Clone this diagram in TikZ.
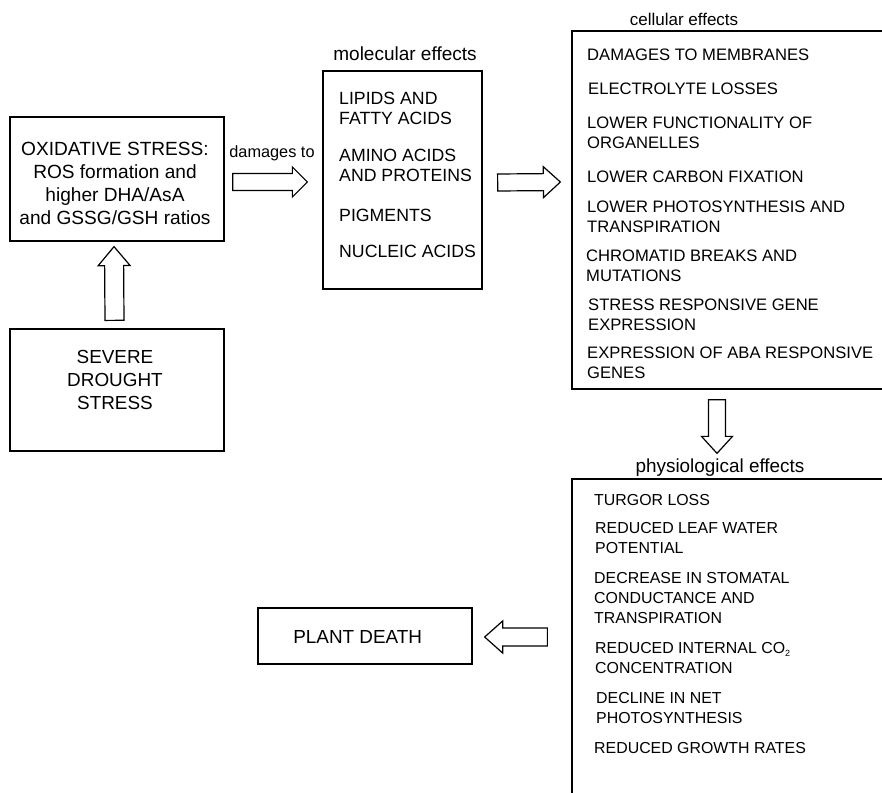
\documentclass[tikz,border=0pt]{standalone}
\usepackage{fontspec}
\setmainfont{Liberation Sans}
\usetikzlibrary{calc}
% hollow block arrow from #1 (tail) to #2 (tip);
% #3 = half shaft width, #4 = half head width, #5 = head length
\newcommand\blockarrow[5]{%
  \draw[arrowline]
    ($(#1)!#3!90:(#2)$) --
    ($(#2)!#5!(#1)!#3!90:(#2)$) --
    ($(#2)!#5!(#1)!#4!90:(#2)$) --
    (#2) --
    ($(#2)!#5!(#1)!#4!-90:(#2)$) --
    ($(#2)!#5!(#1)!#3!-90:(#2)$) --
    ($(#1)!#3!-90:(#2)$) -- cycle;}
% lowered small index
\newcommand\lowidx[1]{\raisebox{-3pt}{\fontsize{9}{9}\selectfont #1}}
\begin{document}
\begin{tikzpicture}[x=1pt,y=-1pt,
  frame/.style={draw=black,line width=1.3pt,inner sep=0pt,rectangle},
  % multi-line nodes: the base anchor sits on the last line
  item/.style={anchor=base west,align=left,inner sep=0pt},
  ctext/.style={anchor=base,align=center,inner sep=0pt},
  molfont/.style={font=\fontsize{17.7}{20}\selectfont},
  cellfont/.style={font=\fontsize{16.6}{20}\selectfont},
  physfont/.style={font=\fontsize{15.9}{20}\selectfont},
  arrowline/.style={draw=black,line width=1.2pt,fill=white,line join=miter}]
\useasboundingbox (0,0) rectangle (882,792);
\clip (0,0) rectangle (882,792);

% ---- boxes ----
\node[frame,minimum width=214pt,minimum height=124pt] (ox) at (117,179) {};
\node[frame,minimum width=214pt,minimum height=122pt] (sev) at (117,390) {};
\node[frame,minimum width=159pt,minimum height=218pt] (mol) at (402.5,180) {};
\node[frame,minimum width=328pt,minimum height=358pt] (cell) at (736,210) {};
\node[frame,minimum width=328pt,minimum height=331pt] (phys) at (736,644.5) {};
\node[frame,minimum width=214pt,minimum height=56pt] (pd) at (365,636) {};

% ---- box texts ----
\node[ctext,font=\fontsize{19.1}{23}\selectfont] (oxt) at (115,224.5)
  {OXIDATIVE STRESS:\\ROS formation and\\higher DHA/AsA\\and GSSG/GSH ratios};
\node[ctext,font=\fontsize{18.9}{23}\selectfont] (sevt) at (115,409.8)
  {SEVERE\\DROUGHT\\STRESS};
\node[ctext,font=\fontsize{18.9}{23}\selectfont] (pdt) at (357.7,643.8) {PLANT DEATH};

% ---- headings ----
\node[ctext,font=\fontsize{19}{23}\selectfont] (molh) at (405,60.5) {molecular effects};
\node[ctext,font=\fontsize{17}{20}\selectfont] (cellh) at (684,26) {cellular effects};
\node[ctext,font=\fontsize{18.9}{23}\selectfont] (physh) at (720,472) {physiological effects};
\node[ctext,font=\fontsize{16.3}{20}\selectfont] (dmg) at (272,157) {damages to};

% ---- molecular effects ----
\begin{scope}[every node/.style={item,molfont}]
\node (m1) at (339,124.3) {LIPIDS AND\\FATTY ACIDS};
\node (m2) at (339,181.3) {AMINO ACIDS\\AND PROTEINS};
\node (m3) at (339,221.3) {PIGMENTS};
\node (m4) at (339,257.3) {NUCLEIC ACIDS};
\end{scope}

% ---- cellular effects ----
\begin{scope}[every node/.style={item,cellfont}]
\node (c1) at (587,60) {DAMAGES TO MEMBRANES};
\node (c2) at (588,94) {ELECTROLYTE LOSSES};
\node (c3) at (587,148) {LOWER FUNCTIONALITY OF\\ORGANELLES};
\node (c4) at (587,182) {LOWER CARBON FIXATION};
\node (c5) at (587,232) {LOWER PHOTOSYNTHESIS AND\\TRANSPIRATION};
\node (c6) at (586,281) {CHROMATID BREAKS AND\\MUTATIONS};
\node (c7) at (588,330) {STRESS RESPONSIVE GENE\\EXPRESSION};
\node (c8) at (587,378) {EXPRESSION OF ABA RESPONSIVE\\GENES};
\end{scope}

% ---- physiological effects ----
\begin{scope}[every node/.style={item,physfont}]
\node (p1) at (594,505.7) {TURGOR LOSS};
\node (p2) at (595,553.7) {REDUCED LEAF WATER\\POTENTIAL};
\node (p3) at (594,623.7) {DECREASE IN STOMATAL\\CONDUCTANCE AND\\TRANSPIRATION};
\node (p4) at (595,673.7) {REDUCED INTERNAL CO\lowidx{2}\\CONCENTRATION};
\node (p5) at (596,723.7) {DECLINE IN NET\\PHOTOSYNTHESIS};
\node (p6) at (594,753.7) {REDUCED GROWTH RATES};
\end{scope}

% ---- arrow end points ----
\coordinate (a1s) at ($(sev.north)+(-2.5,-8)$);
\coordinate (a1t) at ($(ox.south)+(-3,5)$);
\coordinate (a2s) at ($(ox.east)+(8,3)$);
\coordinate (a2t) at ($(mol.west)+(-15,2)$);
\coordinate (a3s) at ($(mol.east)+(15,2.5)$);
\coordinate (a3t) at ($(cell.west)+(-11,-28)$);
\coordinate (a4s) at ($(cell.south)+(-19,10)$);
\coordinate (a4t) at ($(phys.north)+(-19,-25)$);
\coordinate (a5s) at ($(phys.west)+(-24,-7.5)$);
\coordinate (a5t) at ($(pd.east)+(12,1)$);

% ---- hollow arrows ----
\blockarrow{a1s}{a1t}{9.5pt}{16pt}{19pt}
\blockarrow{a2s}{a2t}{8.5pt}{15pt}{15pt}
\blockarrow{a3s}{a3t}{8.5pt}{15.5pt}{17pt}
\blockarrow{a4s}{a4t}{8.5pt}{15.5pt}{17pt}
\blockarrow{a5s}{a5t}{9pt}{16pt}{18pt}
\end{tikzpicture}
\end{document}
